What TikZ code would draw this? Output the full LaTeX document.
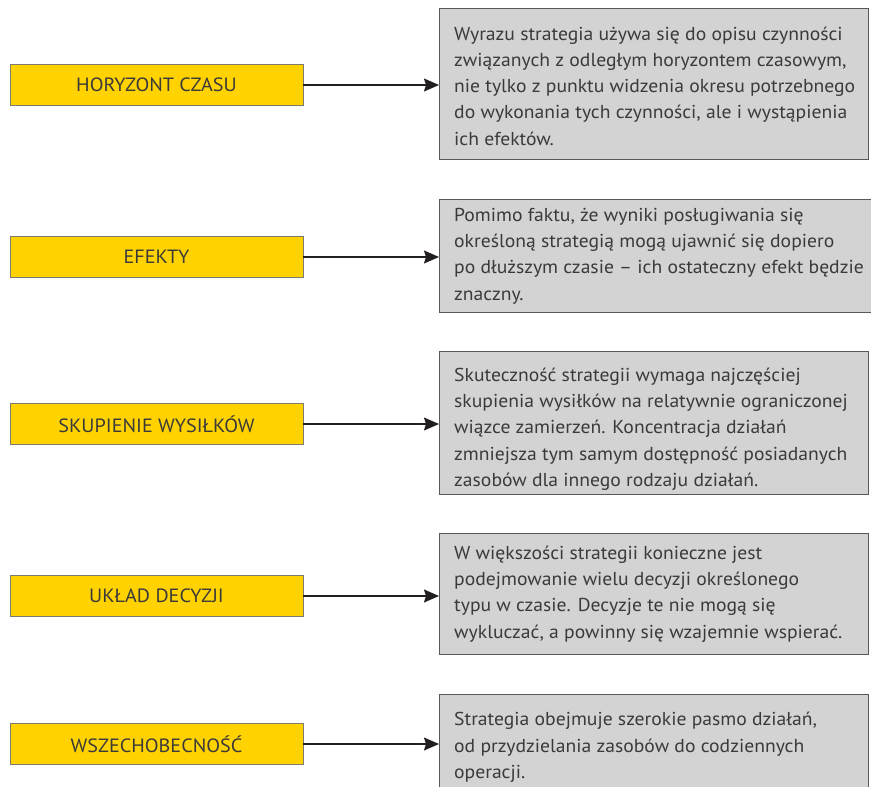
\documentclass[tikz,border=0pt]{standalone}
\usepackage{fontspec}
\setmainfont{PT Sans}[FakeStretch=1.05]
\usetikzlibrary{arrows.meta}
\definecolor{ybox}{HTML}{FFD200}
\definecolor{gfill}{HTML}{D3D3D4}
\definecolor{gline}{HTML}{58585A}
\definecolor{yline}{HTML}{7C7A6E}
\definecolor{txt}{HTML}{3A3A39}
\definecolor{arr}{HTML}{231F20}
\begin{document}
\begin{tikzpicture}[x=1pt,y=-1pt,
  ylabel/.style={draw=yline, line width=0.9pt, fill=ybox, minimum width=293pt, minimum height=41pt, inner sep=0pt, text=txt, font=\fontsize{19.2}{22}\selectfont},
  panel/.style={draw=gline, line width=1pt, fill=gfill, anchor=north west, inner sep=0pt, minimum width=429pt},
  ptext/.style={anchor=west, align=left, inner sep=0pt, text=txt, font=\fontsize{18.7}{26.3}\selectfont},
  link/.style={draw=arr, line width=1.3pt, -{Stealth[length=15pt,width=13pt,inset=2pt]}}]
\useasboundingbox (0,0) rectangle (871,787);

% left labels
\node[ylabel] (y1) at (156.5,85) {HORYZONT CZASU};
\node[ylabel] (y2) at (156.5,257) {EFEKTY};
\node[ylabel] (y3) at (156.5,424) {SKUPIENIE WYSIŁKÓW};
\node[ylabel] (y4) at (156.5,596) {UKŁAD DECYZJI};
\node[ylabel] (y5) at (156.5,744) {WSZECHOBECNOŚĆ};

% right panels
\node[panel, minimum height=151pt] (g1) at (439,8) {};
\node[panel, minimum height=113pt, minimum width=441pt] (g2) at (439,199) {};
\node[panel, minimum height=143pt] (g3) at (439,351) {};
\node[panel, minimum height=121pt] (g4) at (439,533) {};
\node[panel, minimum height=106pt] (g5) at (439,694) {};

% panel texts
\node[ptext, yshift=-2pt] (t1) at ([xshift=15pt]g1.west) {Wyrazu strategia używa się do opisu czynności\\związanych z odległym horyzontem czasowym,\\nie tylko z punktu widzenia okresu potrzebnego\\do wykonania tych czynności, ale i wystąpienia\\ich efektów.};
\node[ptext] (t2) at ([xshift=15pt]g2.west) {Pomimo faktu, że wyniki posługiwania się\\określoną strategią mogą ujawnić się dopiero\\po dłuższym czasie – ich ostateczny efekt będzie\\znaczny.};
\node[ptext, yshift=-6pt] (t3) at ([xshift=15pt]g3.west) {Skuteczność strategii wymaga najczęściej\\skupienia wysiłków na relatywnie ograniczonej\\wiązce zamierzeń. Koncentracja działań\\zmniejsza tym samym dostępność posiadanych\\zasobów dla innego rodzaju działań.};
\node[ptext] (t4) at ([xshift=15pt]g4.west) {W większości strategii konieczne jest\\podejmowanie wielu decyzji określonego\\typu w czasie. Decyzje te nie mogą się\\wykluczać, a powinny się wzajemnie wspierać.};
\node[ptext] (t5) at ([xshift=15pt]g5.west) {Strategia obejmuje szerokie pasmo działań,\\od przydzielania zasobów do codziennych\\operacji.};

% connectors
\draw[link] (y1.east) -- (y1.east -| g1.west);
\draw[link] (y2.east) -- (y2.east -| g2.west);
\draw[link] (y3.east) -- (y3.east -| g3.west);
\draw[link] (y4.east) -- (y4.east -| g4.west);
\draw[link] (y5.east) -- (y5.east -| g5.west);
\end{tikzpicture}
\end{document}
